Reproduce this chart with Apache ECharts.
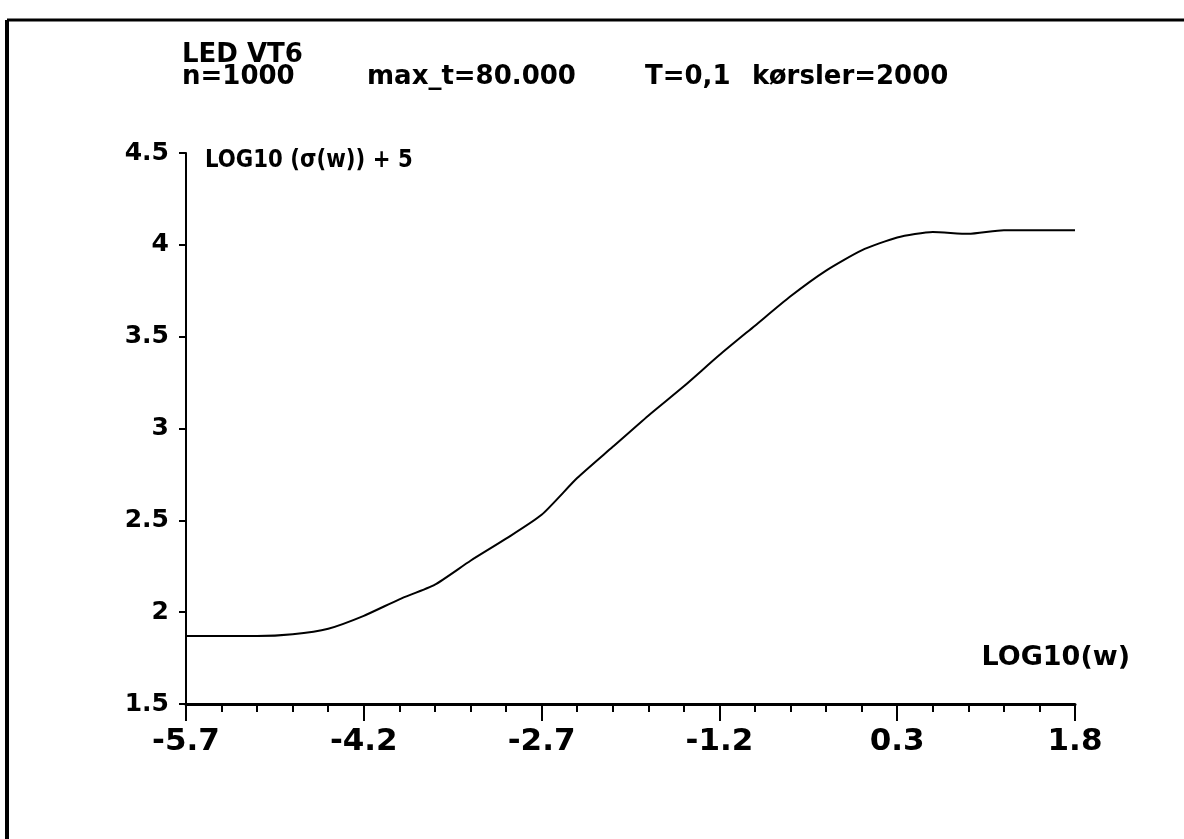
<!DOCTYPE html>
<html>
<head>
<meta charset="utf-8">
<script src="https://cdn.jsdelivr.net/npm/echarts@6/dist/echarts.min.js"></script>
<style>
  html, body { margin: 0; padding: 0; background: #fff; }
  #chart { width: 1184px; height: 839px; }
</style>
</head>
<body>
<div id="chart"></div>
<script>
// readings
const logW = [-5.7, -5.4, -5.1, -4.8, -4.5, -4.2, -3.9, -3.6, -3.3, -3.0, -2.7, -2.4, -2.1, -1.8, -1.5, -1.2, -0.9, -0.6, -0.3, 0.0, 0.3, 0.6, 0.9, 1.2, 1.5, 1.8];
const logSigma = [1.87, 1.87, 1.87, 1.88, 1.91, 1.98, 2.07, 2.15, 2.28, 2.40, 2.53, 2.73, 2.90, 3.07, 3.23, 3.40, 3.56, 3.72, 3.86, 3.97, 4.04, 4.07, 4.06, 4.08, 4.08, 4.08];
const xTicks = [-5.7, -4.2, -2.7, -1.2, 0.3, 1.8];

const titleLine1 = 'LED VT6';
const titleParts = ['n=1000', 'max_t=80.000', 'T=0,1', 'kørsler=2000'];
const titleX = [182, 367, 645, 752];

const font = "'DejaVu Sans', Arial, sans-serif";

const titleText = titleParts.map((t, i) => ({
  type: 'text', left: titleX[i], top: 64,
  style: { text: t, font: 'bold 26px ' + font, fill: '#000' }
}));

const chart = echarts.init(document.getElementById('chart'));
chart.setOption({
  animation: false,
  grid: { left: 186, right: 109, top: 153, bottom: 135 },
  graphic: [
    // frame (only top and left edges survive in the scan)
    { type: 'line', shape: { x1: 7, y1: 20, x2: 1184, y2: 20 }, style: { stroke: '#000', lineWidth: 3 } },
    { type: 'line', shape: { x1: 7, y1: 20, x2: 7, y2: 839 }, style: { stroke: '#000', lineWidth: 4 } },
    { type: 'text', left: 182, top: 42, style: { text: titleLine1, font: 'bold 26px ' + font, fill: '#000' } },
    ...titleText,
    { type: 'text', x: 205, y: 148, scaleX: 0.85, style: { text: 'LOG10 (σ(w)) + 5', font: 'bold 25px ' + font, fill: '#000' } },
    { type: 'text', right: 54, top: 644, style: { text: 'LOG10(w)', font: 'bold 27px ' + font, fill: '#000' } }
  ],
  xAxis: {
    type: 'value',
    min: -5.7,
    max: 1.8,
    interval: 1.5,
    axisLine: { onZero: false, lineStyle: { color: '#000', width: 3 } },
    axisTick: { inside: false, length: 17, lineStyle: { color: '#000', width: 2 } },
    minorTick: { show: true, splitNumber: 5, length: 8, lineStyle: { color: '#000', width: 2 } },
    splitLine: { show: false },
    axisLabel: {
      color: '#000',
      fontFamily: font,
      fontWeight: 'bold',
      fontSize: 31,
      margin: 22,
      customValues: xTicks,
      formatter: v => v.toFixed(1)
    }
  },
  yAxis: {
    type: 'value',
    min: 1.5,
    max: 4.5,
    interval: 0.5,
    axisLine: { show: true, onZero: false, lineStyle: { color: '#000', width: 2 } },
    axisTick: { show: true, length: 7, lineStyle: { color: '#000', width: 2 } },
    splitLine: { show: false },
    axisLabel: {
      color: '#000',
      fontFamily: font,
      fontWeight: 'bold',
      fontSize: 25,
      margin: 17,
      formatter: v => String(v)
    }
  },
  series: [{
    type: 'line',
    data: logW.map((x, i) => [x, logSigma[i]]),
    showSymbol: false,
    smooth: 0.2,
    lineStyle: { color: '#000', width: 2 }
  }]
});
</script>
</body>
</html>
